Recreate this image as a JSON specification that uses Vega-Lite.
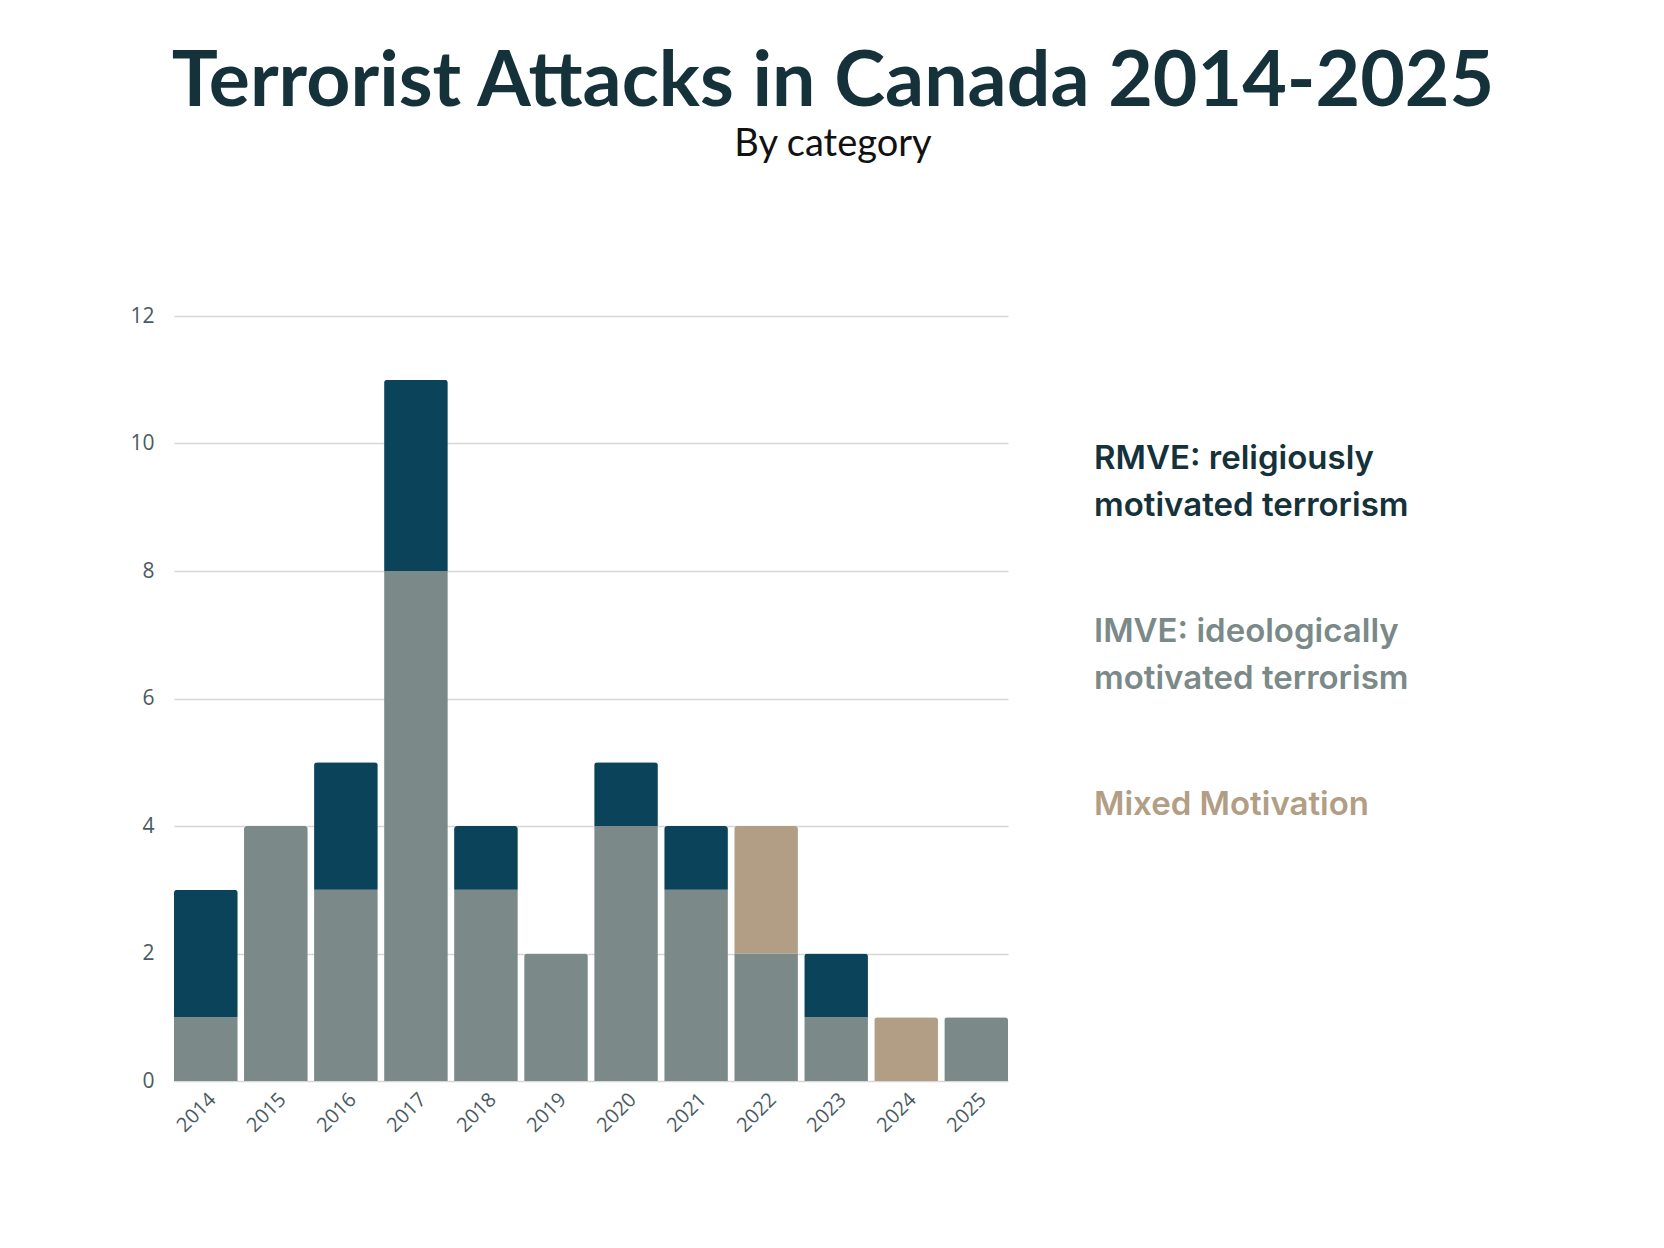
{
  "$schema": "https://vega.github.io/schema/vega-lite/v6.json",
  "width": 834,
  "height": 765,
  "padding": {"left": 129, "top": 44, "right": 20, "bottom": 20},
  "background": "white",
  "title": {
    "text": "Terrorist Attacks in Canada 2014-2025",
    "subtitle": "By category",
    "anchor": "middle",
    "frame": "group",
    "offset": 140,
    "dx": 242,
    "font": "Lato",
    "fontSize": 77,
    "fontWeight": "bold",
    "color": "#15323a",
    "subtitleFont": "Lato",
    "subtitleFontSize": 38,
    "subtitleColor": "#111111",
    "subtitlePadding": 4
  },
  "config": {"view": {"stroke": null}},
  "data": {
    "values": [
      {"year": "2014", "cat": "IMVE", "n": 1}, {"year": "2014", "cat": "RMVE", "n": 2},
      {"year": "2015", "cat": "IMVE", "n": 4},
      {"year": "2016", "cat": "IMVE", "n": 3}, {"year": "2016", "cat": "RMVE", "n": 2},
      {"year": "2017", "cat": "IMVE", "n": 8}, {"year": "2017", "cat": "RMVE", "n": 3},
      {"year": "2018", "cat": "IMVE", "n": 3}, {"year": "2018", "cat": "RMVE", "n": 1},
      {"year": "2019", "cat": "IMVE", "n": 2},
      {"year": "2020", "cat": "IMVE", "n": 4}, {"year": "2020", "cat": "RMVE", "n": 1},
      {"year": "2021", "cat": "IMVE", "n": 3}, {"year": "2021", "cat": "RMVE", "n": 1},
      {"year": "2022", "cat": "IMVE", "n": 2}, {"year": "2022", "cat": "Mixed", "n": 2},
      {"year": "2023", "cat": "IMVE", "n": 1}, {"year": "2023", "cat": "RMVE", "n": 1},
      {"year": "2024", "cat": "Mixed", "n": 1},
      {"year": "2025", "cat": "IMVE", "n": 1}
    ]
  },
  "transform": [
    {"calculate": "datum.cat === 'IMVE' ? 0 : 1", "as": "ord"}
  ],
  "mark": {"type": "bar", "cornerRadiusTopLeft": 3, "cornerRadiusTopRight": 3},
  "encoding": {
    "x": {
      "field": "year", "type": "ordinal", "title": null,
      "scale": {"paddingInner": 0.09, "paddingOuter": 0},
      "axis": {"labelAngle": -45, "labelFontSize": 20, "labelColor": "#4a5a62", "labelFont": "Open Sans", "ticks": false, "domain": false, "labelPadding": 8}
    },
    "y": {
      "field": "n", "type": "quantitative", "aggregate": "sum", "stack": "zero", "title": null,
      "scale": {"domain": [0, 12]},
      "axis": {"values": [0, 2, 4, 6, 8, 10, 12], "domain": false, "ticks": false, "labelFontSize": 21, "labelColor": "#4a5a62", "labelFont": "Open Sans", "labelPadding": 20, "gridColor": "#d6d6d6", "gridWidth": 1.5}
    },
    "order": {"field": "ord"},
    "color": {
      "field": "cat", "type": "nominal",
      "scale": {"domain": ["RMVE", "IMVE", "Mixed"], "range": ["#0b435a", "#7b8a89", "#b19e84"]},
      "legend": {
        "title": null,
        "orient": "none",
        "legendX": 897,
        "legendY": 126,
        "symbolOpacity": 0,
        "symbolSize": 0,
        "symbolStrokeWidth": 0,
        "labelFont": "Inter",
        "labelFontSize": 33,
        "labelFontWeight": 600,
        "labelLimit": 500,
        "rowPadding": 92,
        "padding": 0,
        "labelOffset": -10,
        "encode": {
          "labels": {
            "update": {
              "text": {"signal": "datum.value === 'RMVE' ? ['RMVE: religiously', 'motivated terrorism'] : datum.value === 'IMVE' ? ['IMVE: ideologically', 'motivated terrorism'] : 'Mixed Motivation'"},
              "fill": {"signal": "datum.value === 'RMVE' ? '#15323a' : datum.value === 'IMVE' ? '#7b8a89' : '#b19e84'"},
              "lineHeight": {"value": 47}
            }
          }
        }
      }
    }
  }
}
